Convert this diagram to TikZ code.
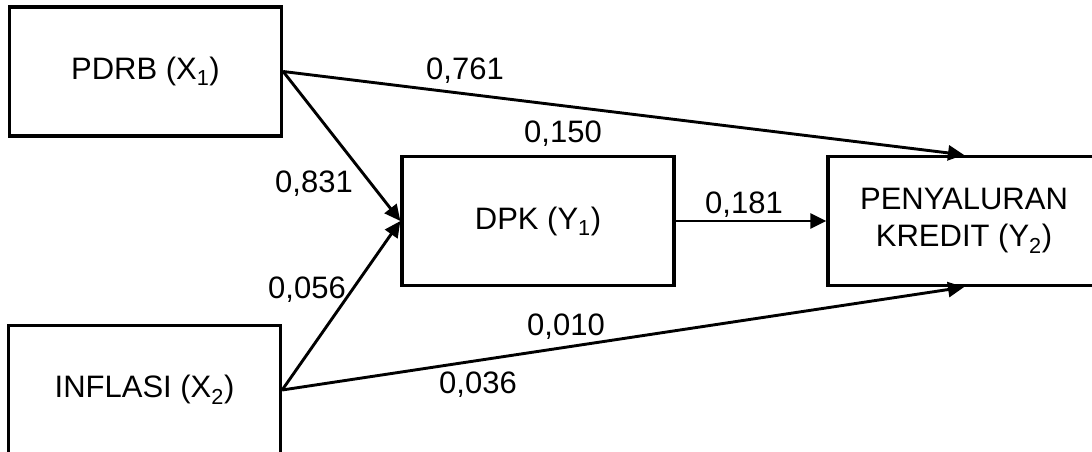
\documentclass[tikz,border=0pt]{standalone}
\usepackage{fontspec}
\setmainfont{Liberation Sans}
\usetikzlibrary{arrows.meta}
\begin{document}
\begin{tikzpicture}[x=1pt,y=-1pt,
  varbox/.style={draw=black,line width=3.3pt,rectangle,inner sep=0pt,
    minimum width=272pt,minimum height=129pt,align=center,
    font=\fontsize{31}{37}\selectfont},
  path/.style={line width=2.9pt,-{Triangle[length=16pt,width=15pt]}},
  coef/.style={anchor=base,inner sep=0pt,font=\fontsize{31}{37}\selectfont}]
\useasboundingbox (0,0) rectangle (1092,452);
\fill[white] (0,0) rectangle (1092,452);

% variables
\node[varbox] (X1) at (145.5,71.5) {PDRB (X\textsubscript{1})};
\node[varbox] (X2) at (144.5,390) {INFLASI (X\textsubscript{2})};
\node[varbox] (Y1) at (538,221) {DPK (Y\textsubscript{1})};
\node[varbox] (Y2) at (964,221) {PENYALURAN\\KREDIT (Y\textsubscript{2})};

% paths
\draw[path] (X1.east) -- (Y2.north);
\draw[path] (X2.east) -- (Y2.south);
\draw[path] (X1.east) -- (Y1.west);
\draw[path] (X2.east) -- (Y1.west);
\draw[path] (Y1.east) -- (Y2.west);

% path coefficients
\node[coef] (c761) at (465,80) {0,761};
\node[coef] (c150) at (563,142) {0,150};
\node[coef] (c831) at (314,192) {0,831};
\node[coef] (c181) at (744,213) {0,181};
\node[coef] (c056) at (307,298) {0,056};
\node[coef] (c010) at (566,335) {0,010};
\node[coef] (c036) at (478,393) {0,036};
\end{tikzpicture}
\end{document}
